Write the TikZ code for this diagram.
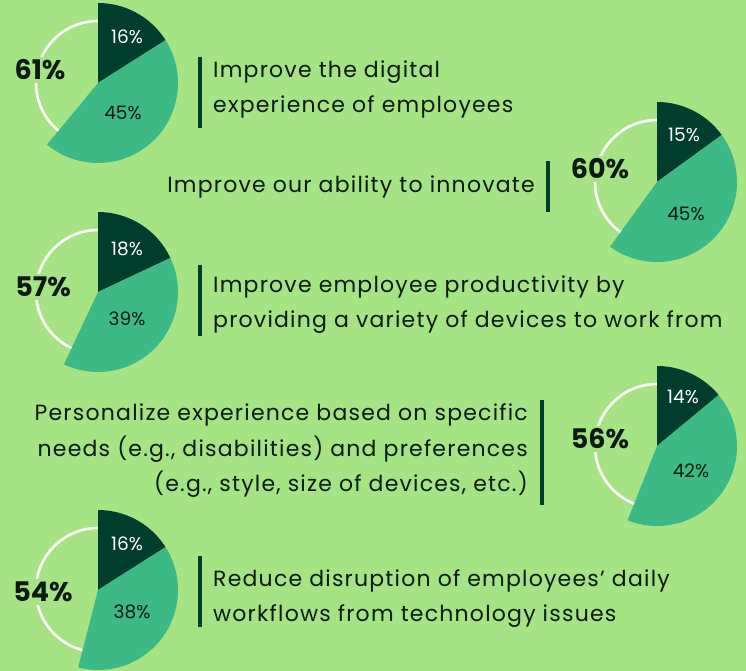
\documentclass[tikz,border=0pt]{standalone}
\usepackage{fontspec}
\setmainfont{Poppins}
\newfontfamily\claimfont[LetterSpace=5.5]{Poppins}
\definecolor{bg}{HTML}{A6E384}
\definecolor{slicedark}{HTML}{003D2C}
\definecolor{slicemid}{HTML}{3CB984}
\definecolor{ink}{HTML}{0B1A12}

\begin{document}
\begin{tikzpicture}[x=1pt, y=1pt,
	ring/.style={draw=white, line width=2.6pt},
	dark/.style={fill=slicedark},
	mid/.style={fill=slicemid},
	total/.style={font=\fontsize{27}{30}\selectfont\bfseries, text=ink, fill=bg, inner sep=2.5pt},
	share/.style={font=\fontsize{18.5}{21}\selectfont, inner sep=0pt},
	bar/.style={draw=slicedark, line width=4.5pt},
	claim/.style={font=\claimfont\fontsize{22}{35.5}\selectfont, text=ink, inner sep=0pt}]
		\fill[bg] (0, 0) rectangle (746, 671);
		\useasboundingbox (0, 0) rectangle (746, 671);

		\coordinate	(c1) at (98, 588);
		\coordinate	(c2) at (657, 489);
		\coordinate	(c3) at (98, 379);
		\coordinate	(c4) at (657, 225);
		\coordinate	(c5) at (98, 81);

		% rings
		\draw[ring] (c1) circle[radius=62];
		\draw[ring] (c2) circle[radius=62];
		\draw[ring] (c3) circle[radius=62];
		\draw[ring] (c4) circle[radius=62];
		\draw[ring] (c5) circle[radius=62];

		% slices
		\fill[dark]	(c1) -- ++(90:80) arc[start angle=90, end angle=32.4, radius=80] -- cycle;
		\fill[mid]	(c1) -- ++(32.4:80) arc[start angle=32.4, end angle=-129.6, radius=80] -- cycle;
		\fill[dark]	(c2) -- ++(90:80) arc[start angle=90, end angle=36, radius=80] -- cycle;
		\fill[mid]	(c2) -- ++(36:80) arc[start angle=36, end angle=-126, radius=80] -- cycle;
		\fill[dark]	(c3) -- ++(90:80) arc[start angle=90, end angle=25.2, radius=80] -- cycle;
		\fill[mid]	(c3) -- ++(25.2:80) arc[start angle=25.2, end angle=-115.2, radius=80] -- cycle;
		\fill[dark]	(c4) -- ++(90:80) arc[start angle=90, end angle=39.6, radius=80] -- cycle;
		\fill[mid]	(c4) -- ++(39.6:80) arc[start angle=39.6, end angle=-111.6, radius=80] -- cycle;
		\fill[dark]	(c5) -- ++(90:80) arc[start angle=90, end angle=32.4, radius=80] -- cycle;
		\fill[mid]	(c5) -- ++(32.4:80) arc[start angle=32.4, end angle=-104.4, radius=80] -- cycle;

		% totals and shares
		\node[total]				(tot1) at (40, 601) {61\%};
		\node[share, text=white]	(dk1) at (127, 634) {16\%};
		\node[share, text=ink]		(md1) at (123, 558) {45\%};
		\node[total]				(tot2) at (600, 502) {60\%};
		\node[share, text=white]	(dk2) at (684, 536) {15\%};
		\node[share, text=ink]		(md2) at (686, 457) {45\%};
		\node[total]				(tot3) at (43, 384) {57\%};
		\node[share, text=white]	(dk3) at (127, 422) {18\%};
		\node[share, text=ink]		(md3) at (127, 352) {39\%};
		\node[total]				(tot4) at (600, 232) {56\%};
		\node[share, text=white]	(dk4) at (683, 274) {14\%};
		\node[share, text=ink]		(md4) at (691, 200) {42\%};
		\node[total]				(tot5) at (43, 79) {54\%};
		\node[share, text=white]	(dk5) at (127, 127) {16\%};
		\node[share, text=ink]		(md5) at (132, 59) {38\%};

		% bars
		\draw[bar] (200, 614) -- (200, 543);
		\draw[bar] (548, 510) -- (548, 459);
		\draw[bar] (200, 406) -- (200, 335);
		\draw[bar] (542, 271) -- (542, 166);
		\draw[bar] (200, 115) -- (200, 44);

		% claims (base = last line)
		\node[claim, anchor=base west, align=left]	(txt1) at (213, 558) {Improve the digital\\experience of employees};
		\node[claim, anchor=base east, align=right]	(txt2) at (535, 478) {Improve our ability to innovate};
		\node[claim, anchor=base west, align=left]	(txt3) at (213, 343) {Improve employee productivity by\\providing a variety of devices to work from};
		\node[claim, anchor=base east, align=right]	(txt4) at (528, 179) {Personalize experience based on specific\\needs (e.g., disabilities) and preferences\\(e.g., style, size of devices, etc.)};
		\node[claim, anchor=base west, align=left]	(txt5) at (213, 49) {Reduce disruption of employees’ daily\\workflows from technology issues};
\end{tikzpicture}
\end{document}
